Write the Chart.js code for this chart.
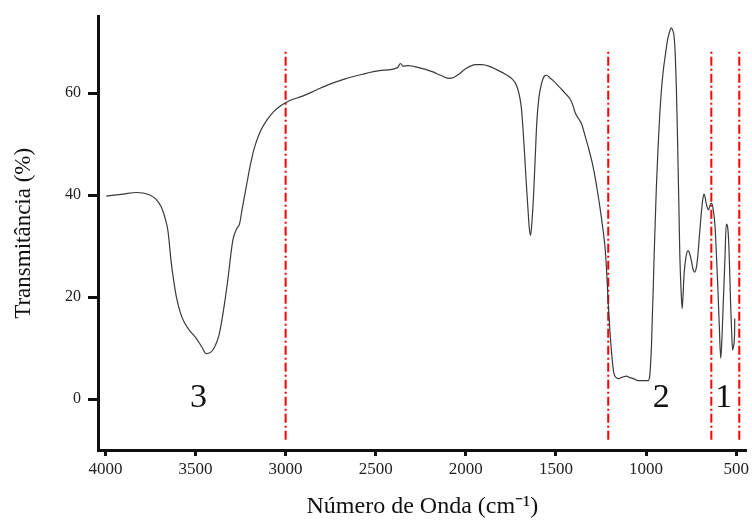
<!DOCTYPE html>
<html>
<head>
<meta charset="utf-8">
<script src="https://cdn.jsdelivr.net/npm/chart.js@4/dist/chart.umd.min.js"></script>
<style>
  html, body { margin: 0; padding: 0; background: #ffffff; }
  #wrap { width: 752px; height: 522px; }
</style>
</head>
<body>
<div id="wrap"><canvas id="c" width="752" height="522"></canvas></div>
<script>
// Wavenumber (cm-1), descending
const wavenumbers = [3995,3900,3827,3760,3720,3689,3665,3653,3634,3606,3580,3560,3530,3496,3465,3440,3415,3394,3370,3357,3340,3321,3293,3270,3256,3240,3219,3195,3173,3140,3108,3070,3035,2980,2906,2830,2758,2670,2574,2480,2380,2362,2350,2320,2261,2187,2140,2095,2070,2039,2000,1947,1910,1873,1830,1781,1750,1726,1712,1700,1692,1683,1674,1665,1656,1648,1641,1634,1624,1615,1606,1595,1579,1565,1551,1535,1514,1490,1468,1445,1421,1405,1394,1375,1357,1340,1320,1300,1283,1270,1256,1242,1228,1218,1210,1200,1191,1183,1176,1165,1154,1130,1108,1090,1071,1043,1010,988,980,976,970,966,960,955,949,943,934,924,915,905,893,882,870,860,852,845,838,832,826,822,817,813,806,800,794,789,778,767,758,749,740,730,720,712,703,694,686,679,672,666,658,653,645,636,627,617,610,602,594,586,579,572,563,555,549,542,536,531,525,520,514,509,508];
// Transmittance (%)
const transmittance = [39.8,40.2,40.5,40.1,39.2,37.6,35.0,33.0,26.6,20.0,16.5,14.9,13.3,11.9,10.2,8.9,9.2,10.2,12.5,14.8,18.5,23.3,31.1,33.5,34.3,37.5,41.5,46.0,49.3,52.5,54.5,56.2,57.3,58.5,59.4,60.6,61.7,62.8,63.7,64.4,65.0,65.8,65.3,65.4,65.0,64.2,63.5,62.9,63.0,63.7,64.8,65.6,65.6,65.3,64.6,63.7,63.0,62.0,60.8,59.0,57.1,53.0,48.0,42.5,37.6,33.5,32.1,34.5,40.2,47.5,54.5,59.0,62.0,63.3,63.5,63.0,62.4,61.5,60.7,59.8,58.8,57.5,56.2,55.0,53.9,51.8,49.3,46.5,43.5,40.8,37.6,34.0,29.8,24.5,18.7,13.0,8.9,6.0,4.7,4.2,4.0,4.3,4.5,4.2,4.0,3.6,3.6,3.6,4.5,6.3,10.5,15.4,22.0,28.5,35.0,41.5,49.0,55.9,60.5,64.3,67.5,70.2,72.0,72.8,72.3,71.2,67.5,61.1,52.0,44.8,36.0,28.5,21.5,17.7,21.0,24.6,28.0,29.1,28.5,27.2,25.5,24.9,26.0,28.5,32.5,36.3,39.0,40.2,39.5,38.3,37.3,37.1,38.0,38.4,37.0,33.7,28.5,22.0,14.5,8.0,12.0,18.7,27.0,34.3,34.0,31.1,25.0,18.7,13.0,9.6,10.5,12.8,15.8];

// Region separators (cm-1) and their vertical extent (%)
const separatorWavenumbers = [3000, 1210, 638, 483];
const separatorRange = [-8, 68.5];

// Region labels
const regionLabels = ['3', '2', '1'];
const regionLabelX = [3483, 916, 569];
const regionLabelY = [0.2, 0.2, 0.2];

// Axis ticks
const xTicks = [4000, 3500, 3000, 2500, 2000, 1500, 1000, 500];
const yTicks = [0, 20, 40, 60];

const SERIF = '"Liberation Serif", "Times New Roman", Times, serif';

const spectrum = wavenumbers.map((w, i) => ({ x: w, y: transmittance[i] }));

const datasets = [{
  label: 'Espectro',
  data: spectrum,
  borderColor: '#3a3a3a',
  borderWidth: 1.2,
  pointRadius: 0,
  cubicInterpolationMode: 'monotone',
  fill: false
}];
separatorWavenumbers.forEach((w) => {
  datasets.push({
    label: 'sep' + w,
    data: [{ x: w, y: separatorRange[0] }, { x: w, y: separatorRange[1] }],
    borderColor: '#ff0000',
    borderWidth: 2,
    borderDash: [9, 3, 2, 3],
    pointRadius: 0,
    fill: false
  });
});

const regionLabelPlugin = {
  id: 'regionLabels',
  afterDatasetsDraw(chart) {
    const { ctx, scales } = chart;
    ctx.save();
    ctx.fillStyle = '#111';
    ctx.font = '34px ' + SERIF;
    ctx.textAlign = 'center';
    ctx.textBaseline = 'middle';
    regionLabels.forEach((t, i) => {
      ctx.fillText(t, scales.x.getPixelForValue(regionLabelX[i]), scales.y.getPixelForValue(regionLabelY[i]));
    });
    ctx.restore();
  }
};

new Chart(document.getElementById('c'), {
  type: 'line',
  data: { datasets },
  plugins: [regionLabelPlugin],
  options: {
    responsive: false,
    animation: false,
    devicePixelRatio: 1,
    layout: { padding: { top: 15, right: 3, left: 0, bottom: 0 } },
    plugins: { legend: { display: false }, tooltip: { enabled: false } },
    scales: {
      x: {
        type: 'linear',
        reverse: true,
        min: 441,
        max: 4041,
        afterFit(scale) { scale.height = 72; },
        afterBuildTicks(scale) { scale.ticks = xTicks.map(v => ({ value: v })); },
        grid: { display: true, drawOnChartArea: false, drawTicks: true, tickLength: 6, tickWidth: 3, tickColor: '#111' },
        border: { display: true, color: '#111', width: 3 },
        ticks: {
          autoSkip: false, maxRotation: 0, minRotation: 0, padding: 3,
          color: '#222', font: { family: SERIF, size: 17 },
          callback: (v) => String(v)
        },
        title: {
          display: true, text: 'Número de Onda (cm⁻¹)', color: '#111',
          font: { family: SERIF, size: 24 }, padding: { top: 0, bottom: 1 }
        }
      },
      y: {
        type: 'linear',
        min: -10,
        max: 75,
        afterFit(scale) { scale.width = 98; },
        afterBuildTicks(scale) { scale.ticks = yTicks.map(v => ({ value: v })); },
        grid: { display: true, drawOnChartArea: false, drawTicks: true, tickLength: 10, tickWidth: 3, tickColor: '#111' },
        border: { display: true, color: '#111', width: 3 },
        ticks: {
          padding: 7, color: '#222', font: { family: SERIF, size: 16 },
          callback: (v) => String(v)
        },
        title: {
          display: true, text: 'Transmitância (%)', color: '#111',
          font: { family: SERIF, size: 23 }, padding: { top: 10, bottom: 0 }
        }
      }
    }
  }
});
</script>
</body>
</html>
